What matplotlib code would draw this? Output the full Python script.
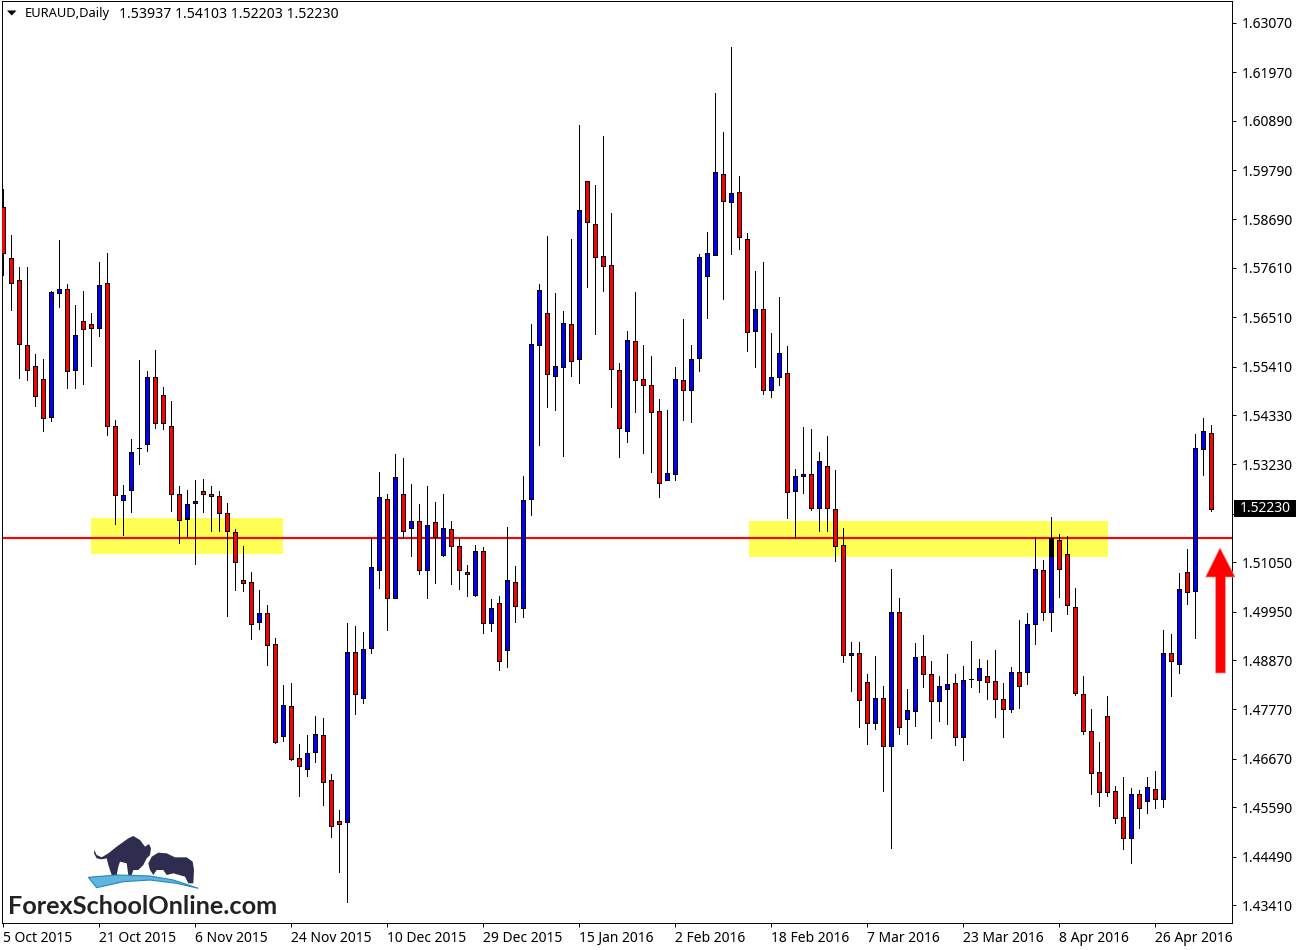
#!/usr/bin/env python3
"""EURAUD daily candles (MT4 look) with two yellow zones, a level line and the
red arrow. Writes out.png at 1300x950.
"""
import numpy as np
import matplotlib
matplotlib.use("Agg")
import matplotlib.pyplot as plt
from matplotlib.patches import Polygon, Rectangle

plt.rcParams["font.family"] = ["Noto Sans", "DejaVu Sans"]

# ------- candles, oldest first -------
opens = [
    1.58962, 1.57825, 1.57334, 1.55886, 1.55418, 1.55128, 1.54294, 1.57057, 1.57133, 1.55342,
    1.56421, 1.56354, 1.56265, 1.57267, 1.54087, 1.52444, 1.52668, 1.53590, 1.53679, 1.55172,
    1.54771, 1.54080, 1.52564, 1.52021, 1.52364, 1.52631, 1.52564, 1.52520, 1.52141, 1.51718,
    1.50647, 1.50603, 1.49712, 1.49912, 1.49221, 1.47171, 1.47840, 1.46680, 1.46448, 1.46827,
    1.47193, 1.46189, 1.45276, 1.45267, 1.49042, 1.48031, 1.49147, 1.50884, 1.52454, 1.50260,
    1.52564, 1.51820, 1.51963, 1.50884, 1.51941, 1.51218, 1.51785, 1.51406, 1.50826, 1.50327,
    1.51294, 1.49703, 1.50135, 1.49101, 1.50603, 1.50024, 1.52467, 1.55899, 1.56599, 1.55208,
    1.55409, 1.56354, 1.55587, 1.59541, 1.58583, 1.57870, 1.57668, 1.55328, 1.53982, 1.55975,
    1.55128, 1.54994, 1.54415, 1.52890, 1.53023, 1.55105, 1.54882, 1.55609, 1.57438, 1.57905,
    1.59697, 1.59087, 1.59297, 1.58249, 1.56211, 1.56689, 1.54882, 1.55172, 1.55261, 1.52631,
    1.52966, 1.53010, 1.52253, 1.53188, 1.52231, 1.51428, 1.48975, 1.49020, 1.48374, 1.47460,
    1.48018, 1.46948, 1.49935, 1.47550, 1.47728, 1.48953, 1.48552, 1.47951, 1.48217, 1.48351,
    1.47148, 1.48441, 1.48418, 1.48508, 1.48396, 1.47996, 1.47773, 1.48597, 1.48611, 1.49667,
    1.50870, 1.49935, 1.51539, 1.51227, 1.50046, 1.48107, 1.47282, 1.46368, 1.47617, 1.45943,
    1.45365, 1.44897, 1.45877, 1.45722, 1.45989, 1.45766, 1.49020, 1.48789, 1.50826, 1.50402,
    1.53568, 1.53937,
]
closes = [
    1.57950, 1.57281, 1.55908, 1.55342, 1.54763, 1.54272, 1.57067, 1.57133, 1.55319, 1.56109,
    1.56243, 1.56265, 1.57223, 1.54080, 1.52555, 1.52542, 1.53501, 1.53590, 1.55172, 1.54147,
    1.54147, 1.52564, 1.51999, 1.52342, 1.52409, 1.52564, 1.52520, 1.52141, 1.51740, 1.51049,
    1.50580, 1.49667, 1.49912, 1.49199, 1.47043, 1.47862, 1.46671, 1.46515, 1.46791, 1.47215,
    1.46158, 1.45178, 1.45222, 1.49042, 1.48119, 1.49110, 1.50937, 1.52497, 1.50260, 1.52943,
    1.51740, 1.51963, 1.50870, 1.51874, 1.51606, 1.51807, 1.51406, 1.50870, 1.50781, 1.51294,
    1.49703, 1.50024, 1.48854, 1.50647, 1.50082, 1.52431, 1.55908, 1.57111, 1.55252, 1.55418,
    1.56376, 1.55542, 1.58895, 1.58641, 1.57861, 1.57660, 1.55364, 1.54049, 1.55997, 1.55119,
    1.55008, 1.54406, 1.52823, 1.53032, 1.55128, 1.54896, 1.55573, 1.57847, 1.57936, 1.59742,
    1.59096, 1.59275, 1.58307, 1.56189, 1.56689, 1.54882, 1.55172, 1.55707, 1.52609, 1.52966,
    1.53010, 1.52253, 1.53300, 1.52253, 1.51419, 1.48975, 1.49020, 1.47973, 1.47460, 1.48018,
    1.46948, 1.49935, 1.47371, 1.47750, 1.48931, 1.48552, 1.47951, 1.48286, 1.48329, 1.47148,
    1.48418, 1.48441, 1.48686, 1.48374, 1.47996, 1.47773, 1.48597, 1.48286, 1.49667, 1.50893,
    1.49935, 1.51591, 1.50893, 1.50091, 1.48141, 1.47295, 1.46345, 1.45935, 1.45935, 1.45356,
    1.44897, 1.45877, 1.45579, 1.46033, 1.45766, 1.49020, 1.48842, 1.50447, 1.50380, 1.53590,
    1.53969, 1.52230,
]
highs = [
    1.59370, 1.58345, 1.57631, 1.57631, 1.55692, 1.55580, 1.57096, 1.58233, 1.57252, 1.56784,
    1.57096, 1.56606, 1.57743, 1.57943, 1.54221, 1.52771, 1.53797, 1.55558, 1.55313, 1.55781,
    1.54956, 1.54645, 1.52749, 1.52660, 1.52883, 1.52905, 1.52749, 1.52638, 1.52371, 1.51791,
    1.51412, 1.50832, 1.50431, 1.50097, 1.49362, 1.48314, 1.48358, 1.46999, 1.47200, 1.47623,
    1.47579, 1.46330, 1.45528, 1.49696, 1.49629, 1.49495, 1.51591, 1.53061, 1.52571, 1.53463,
    1.53374, 1.52794, 1.52349, 1.52749, 1.52393, 1.52571, 1.51970, 1.51568, 1.50989, 1.51435,
    1.51390, 1.50231, 1.50297, 1.51836, 1.50966, 1.52972, 1.56361, 1.57252, 1.58322, 1.57051,
    1.56651, 1.58255, 1.60796, 1.59548, 1.59458, 1.60551, 1.58835, 1.55491, 1.56205, 1.57074,
    1.55893, 1.55647, 1.54689, 1.54444, 1.55402, 1.56472, 1.55893, 1.57921, 1.58411, 1.61510,
    1.60640, 1.62535, 1.59659, 1.58389, 1.57542, 1.57743, 1.56160, 1.56963, 1.55870, 1.53128,
    1.54065, 1.54020, 1.53507, 1.53864, 1.53106, 1.51814, 1.49272, 1.49272, 1.48559, 1.48960,
    1.48291, 1.50899, 1.50254, 1.48225, 1.49250, 1.49429, 1.48849, 1.48514, 1.49005, 1.48559,
    1.48737, 1.49295, 1.48893, 1.48871, 1.49094, 1.48358, 1.48715, 1.49763, 1.49919, 1.51613,
    1.51100, 1.52059, 1.51680, 1.51635, 1.50476, 1.48514, 1.47779, 1.47043, 1.48069, 1.46062,
    1.46263, 1.46018, 1.45973, 1.46263, 1.46397, 1.49540, 1.49450, 1.50810, 1.51345, 1.53909,
    1.54266, 1.54103,
]
lows = [
    1.57460, 1.56673, 1.55157, 1.55112, 1.54533, 1.53976, 1.54199, 1.56740, 1.54934, 1.54934,
    1.55023, 1.55424, 1.56093, 1.53887, 1.51903, 1.51658, 1.52170, 1.53240, 1.53530, 1.54043,
    1.54020, 1.52193, 1.51479, 1.51635, 1.51011, 1.52170, 1.51747, 1.51747, 1.49852, 1.50431,
    1.50409, 1.49339, 1.49562, 1.48760, 1.47021, 1.47066, 1.46642, 1.45839, 1.46285, 1.46597,
    1.45639, 1.44926, 1.44145, 1.43477, 1.47668, 1.47913, 1.49027, 1.50476, 1.49540, 1.50254,
    1.51591, 1.51189, 1.50788, 1.50254, 1.50587, 1.51189, 1.50565, 1.50453, 1.50297, 1.50297,
    1.49473, 1.49518, 1.48648, 1.48715, 1.49718, 1.49830, 1.52103, 1.53664, 1.54511, 1.54444,
    1.53418, 1.55201, 1.55045, 1.57185, 1.56138, 1.57096, 1.54511, 1.53396, 1.53730, 1.54399,
    1.53485, 1.53061, 1.52504, 1.52883, 1.52883, 1.54221, 1.54176, 1.55313, 1.56495, 1.57899,
    1.56918, 1.57921, 1.58032, 1.55759, 1.55402, 1.54800, 1.54733, 1.55000, 1.52037, 1.51591,
    1.52593, 1.52215, 1.51747, 1.51747, 1.51078, 1.48826, 1.48179, 1.47378, 1.46999, 1.47333,
    1.45950, 1.44681, 1.47222, 1.46999, 1.47400, 1.48268, 1.47133, 1.47512, 1.47445, 1.46977,
    1.46642, 1.48268, 1.48157, 1.48002, 1.47601, 1.47155, 1.47712, 1.47802, 1.48336, 1.49228,
    1.49763, 1.49518, 1.50276, 1.49897, 1.48090, 1.47222, 1.45884, 1.45617, 1.45839, 1.45238,
    1.44658, 1.44346, 1.45127, 1.45461, 1.45573, 1.45595, 1.48069, 1.48582, 1.50120, 1.49362,
    1.52994, 1.52203,
]

date_positions = [0, 12, 24, 36, 48, 60, 72, 84, 96, 108, 120, 132, 144]
date_labels = ["5 Oct 2015", "21 Oct 2015", "6 Nov 2015", "24 Nov 2015", "10 Dec 2015",
               "29 Dec 2015", "15 Jan 2016", "2 Feb 2016", "18 Feb 2016", "7 Mar 2016",
               "23 Mar 2016", "8 Apr 2016", "26 Apr 2016"]
price_ticks = [1.63070, 1.61970, 1.60890, 1.59790, 1.58690, 1.57610, 1.56510, 1.55410, 1.54330,
               1.53230, 1.52130, 1.51050, 1.49950, 1.48870, 1.47770, 1.46670, 1.45590, 1.44490,
               1.43410]
level = 1.51597
zones = [(10.96, 34.96, 1.51245, 1.52037), (93.2, 138.1, 1.51167, 1.51970)]

W, H = 1300, 950
LW = 0.7   # one device pixel with antialiasing off
fig = plt.figure(figsize=(W / 100, H / 100), dpi=100, facecolor="white")
# left edge just under 2 px so the spine lands next to the first candle, not on it
ax = fig.add_axes([1.9 / W, (H - 923) / H, 1230.3 / W, 922 / H])
ax.set_xlim(-0.175, 153.6125)
ax.set_ylim(1.43009, 1.63560)

# zones and level sit behind the candles, like MT4 objects in the background
zone_patches = []
for x0, x1, y0, y1 in zones:
    p = Rectangle((x0, y0), x1 - x0, y1 - y0, facecolor="#ffff55", edgecolor="none", zorder=1)
    ax.add_patch(p)
    zone_patches.append(p)
ax.plot([0, 153.6125], [level, level], color="#ff0000", lw=1.5, zorder=2, solid_capstyle="butt")

idx = np.arange(len(opens))
o, c, hi, lo = map(np.array, (opens, closes, highs, lows))
up = c >= o
ax.vlines(idx, lo, hi, color="black", lw=LW, zorder=3, antialiased=False)
ax.bar(idx, np.abs(c - o), bottom=np.minimum(o, c), width=0.5,
       color=np.where(up, "#0000ff", "#ff0000"), edgecolor="black", linewidth=LW,
       zorder=4, antialiased=False)

# blue under the yellow overlay comes out black in the reference
for zp in zone_patches:
    dark = ax.bar(idx[up], (c - o)[up], bottom=o[up], width=0.5, color="black",
                  edgecolor="black", linewidth=LW, zorder=5, antialiased=False)
    for b in dark:
        b.set_clip_path(zp)

ax.yaxis.tick_right()
ax.set_yticks(price_ticks)
# 1.52130 is hidden behind the black price flag
ax.set_yticklabels(["" if t == 1.52130 else f"{t:.5f}" for t in price_ticks], fontsize=10)
ax.set_xticks(date_positions)
ax.set_xticklabels(date_labels, fontsize=10, ha="left", va="baseline")
ax.tick_params(axis="y", length=3, width=LW, pad=4)
ax.tick_params(axis="x", length=3, width=LW, pad=10.5)
for s in ax.spines.values():
    s.set_linewidth(LW)

# ------- pixel overlay: header, price flag, arrow, logo -------
ov = fig.add_axes([0, 0, 1, 1], zorder=10)
ov.set_xlim(0, W)
ov.set_ylim(H, 0)
ov.axis("off")

ov.add_patch(Polygon([(7, 10.5), (16.5, 10.5), (11.7, 15.5)], color="black", lw=0))
ov.text(25, 14, "EURAUD,Daily", fontsize=9.3, va="center")
ov.text(119, 14, "1.53937 1.54103 1.52203 1.52230", fontsize=10.15, va="center")

ov.add_patch(Rectangle((1234, 500), 62, 17, color="black", lw=0))
ov.text(1240, 508.5, "1.52230", color="white", fontsize=10, va="center")

ov.add_patch(Polygon([(1220, 548), (1235, 577), (1225.3, 577), (1225.3, 673),
                      (1215.7, 673), (1215.7, 577), (1205.7, 577)],
                     facecolor="#ff0000", edgecolor="#ff8080", lw=0.5))

def logo(points, **kw):
    pts = np.array(points, dtype=float) / 3 + [0, 820]
    ov.add_patch(Polygon(pts, **kw))

logo([(283, 90), (290, 105), (305, 112), (325, 100), (350, 80), (385, 55), (400, 48), (420, 60),
      (435, 80), (447, 72), (453, 85), (450, 105), (440, 115), (430, 135), (415, 150), (400, 150),
      (395, 165), (385, 165), (380, 130), (360, 125), (355, 140), (350, 165), (335, 165),
      (325, 135), (320, 115), (305, 118), (290, 115), (282, 100)],
     facecolor="#2e2d50", edgecolor="none")
logo([(445, 130), (455, 110), (475, 98), (500, 100), (525, 112), (560, 112), (578, 125), (582, 150),
      (580, 190), (565, 190), (555, 170), (520, 160), (500, 165), (490, 150), (470, 150),
      (460, 165), (450, 150)],
     facecolor="#2e2d50", edgecolor="none")
logo([(265, 172), (350, 165), (450, 168), (520, 180), (595, 205), (530, 190), (450, 180),
      (370, 185), (290, 203)],
     facecolor="#62b4de", edgecolor="#1e88c8", lw=0.8)
ov.text(8, 906, "ForexSchoolOnline.com", fontsize=18.2, fontweight="bold", color="#222222",
        va="center", family=["Lato", "Liberation Sans"])

fig.savefig("out.png", dpi=100)
plt.close(fig)
